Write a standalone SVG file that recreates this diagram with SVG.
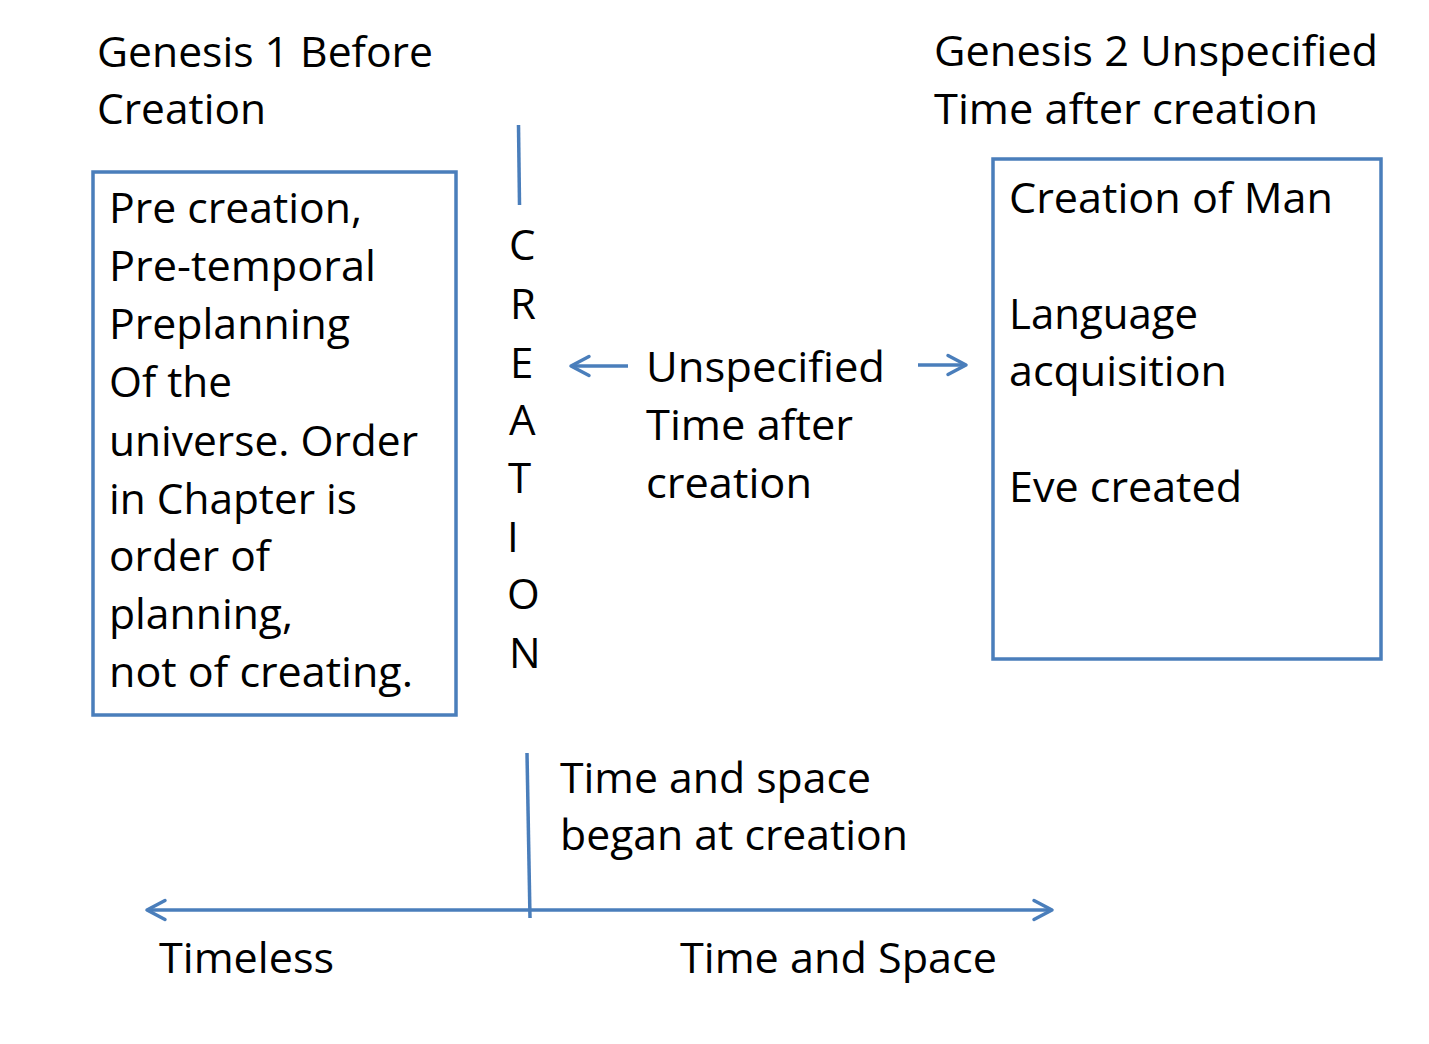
<svg xmlns="http://www.w3.org/2000/svg" width="1429" height="1044" viewBox="0 0 1429 1044">
  <style>
    .t { font-family: "Open Sans", "Noto Sans", "Liberation Sans", sans-serif; font-size: 42px; fill: #000; }
    .box { fill: #fff; stroke: #4a7ebb; stroke-width: 3.5; }
    .ln { fill: none; stroke: #4a7ebb; stroke-width: 3.5; }
  </style>
  <defs>
    <marker id="arr" markerUnits="userSpaceOnUse" markerWidth="26" markerHeight="26" refX="21" refY="13" orient="auto-start-reverse" viewBox="0 0 26 26">
      <path d="M3,3.5 L21,13 L3,22.5" fill="none" stroke="#4a7ebb" stroke-width="3.5" stroke-linecap="round" stroke-linejoin="round"/>
    </marker>
  </defs>
  <rect width="1429" height="1044" fill="#fff"/>

  <g id="connectors">
    <line class="ln" x1="518.5" y1="125" x2="519.5" y2="205"/>
    <line class="ln" x1="527" y1="753" x2="530" y2="918"/>
    <line class="ln" x1="628" y1="366" x2="571" y2="366" marker-end="url(#arr)"/>
    <line class="ln" x1="918" y1="365" x2="966" y2="365" marker-end="url(#arr)"/>
    <line class="ln" x1="147" y1="910" x2="1052" y2="910" marker-start="url(#arr)" marker-end="url(#arr)"/>
  </g>

  <g id="title-genesis1">
    <text class="t" x="97" y="67" textLength="336" lengthAdjust="spacingAndGlyphs">Genesis 1 Before</text>
    <text class="t" x="97" y="124" textLength="169" lengthAdjust="spacingAndGlyphs">Creation</text>
  </g>

  <g id="title-genesis2">
    <text class="t" x="934" y="66" textLength="444" lengthAdjust="spacingAndGlyphs">Genesis 2 Unspecified</text>
    <text class="t" x="934" y="124" textLength="384" lengthAdjust="spacingAndGlyphs">Time after creation</text>
  </g>

  <g id="box-precreation">
    <rect class="box" x="93" y="172" width="363" height="543"/>
    <text class="t" x="109" y="223" textLength="253" lengthAdjust="spacingAndGlyphs">Pre creation,</text>
    <text class="t" x="109" y="281" textLength="267" lengthAdjust="spacingAndGlyphs">Pre-temporal</text>
    <text class="t" x="109" y="339" textLength="241" lengthAdjust="spacingAndGlyphs">Preplanning</text>
    <text class="t" x="109" y="397" textLength="123" lengthAdjust="spacingAndGlyphs">Of the</text>
    <text class="t" x="109" y="456" textLength="309" lengthAdjust="spacingAndGlyphs">universe. Order</text>
    <text class="t" x="109" y="514" textLength="248" lengthAdjust="spacingAndGlyphs">in Chapter is</text>
    <text class="t" x="109" y="571" textLength="161" lengthAdjust="spacingAndGlyphs">order of</text>
    <text class="t" x="109" y="629" textLength="184" lengthAdjust="spacingAndGlyphs">planning,</text>
    <text class="t" x="109" y="687" textLength="304" lengthAdjust="spacingAndGlyphs">not of creating.</text>
  </g>

  <g id="creation-label">
    <text class="t" x="509" y="260">C</text>
    <text class="t" x="510" y="319">R</text>
    <text class="t" x="510" y="378">E</text>
    <text class="t" x="509" y="435">A</text>
    <text class="t" x="508" y="493">T</text>
    <text class="t" x="507" y="552">I</text>
    <text class="t" x="507" y="609">O</text>
    <text class="t" x="509" y="668">N</text>
  </g>

  <g id="unspecified-label">
    <text class="t" x="646" y="382" textLength="239" lengthAdjust="spacingAndGlyphs">Unspecified</text>
    <text class="t" x="646" y="440" textLength="207" lengthAdjust="spacingAndGlyphs">Time after</text>
    <text class="t" x="646" y="498" textLength="166" lengthAdjust="spacingAndGlyphs">creation</text>
  </g>

  <g id="box-creation-of-man">
    <rect class="box" x="993" y="159" width="388" height="500"/>
    <text class="t" x="1009" y="213" textLength="324" lengthAdjust="spacingAndGlyphs">Creation of Man</text>
    <text class="t" x="1009" y="329" textLength="189" lengthAdjust="spacingAndGlyphs">Language</text>
    <text class="t" x="1009" y="386" textLength="218" lengthAdjust="spacingAndGlyphs">acquisition</text>
    <text class="t" x="1009" y="502" textLength="233" lengthAdjust="spacingAndGlyphs">Eve created</text>
  </g>

  <g id="time-space-began">
    <text class="t" x="560" y="793" textLength="311" lengthAdjust="spacingAndGlyphs">Time and space</text>
    <text class="t" x="560" y="850" textLength="348" lengthAdjust="spacingAndGlyphs">began at creation</text>
  </g>

  <g id="label-timeless">
    <text class="t" x="159" y="973" textLength="175" lengthAdjust="spacingAndGlyphs">Timeless</text>
  </g>

  <g id="label-time-and-space">
    <text class="t" x="680" y="973" textLength="317" lengthAdjust="spacingAndGlyphs">Time and Space</text>
  </g>
</svg>
